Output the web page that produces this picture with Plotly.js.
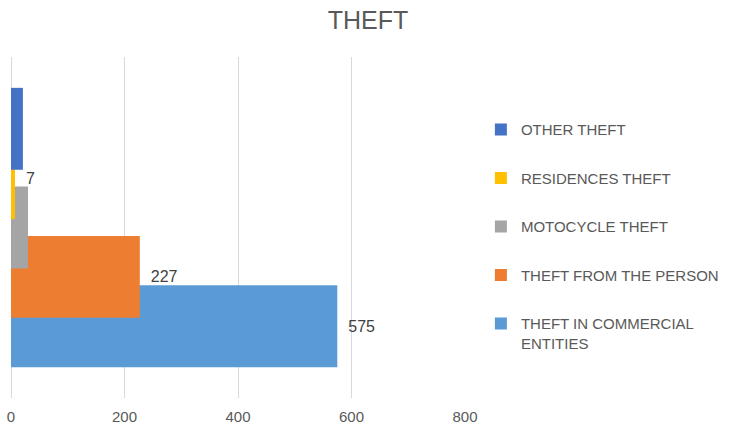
<!DOCTYPE html>
<html>
<head>
<meta charset="utf-8">
<script src="https://cdn.plot.ly/plotly-3.0.1.min.js"></script>
<style>html,body{margin:0;padding:0;background:#fff;}#chart{width:736px;height:426px;}</style>
</head>
<body>
<div id="chart"></div>
<script>
// Series drawn bottom-to-top (first = lowest bar, drawn underneath)
const seriesNames = ["THEFT IN COMMERCIAL<br>ENTITIES", "THEFT FROM THE PERSON", "MOTOCYCLE THEFT", "RESIDENCES THEFT", "OTHER THEFT"];
const seriesValues = [575, 227, 30, 7, 21];
const seriesColors = ["#5B9BD5", "#ED7D31", "#A5A5A5", "#FFC000", "#4472C4"];
const showLabel = [true, true, false, true, false];
const xTicks = [0, 200, 400, 600, 800];

const traces = seriesNames.map((name, i) => ({
  type: "bar",
  orientation: "h",
  name: name,
  x: [seriesValues[i]],
  y: [i],
  width: 1.66,
  marker: {color: seriesColors[i]},
  text: showLabel[i] ? [String(seriesValues[i])] : undefined,
  texttemplate: showLabel[i] ? "\u2002%{x}" : undefined,
  textposition: showLabel[i] ? "outside" : "none",
  textfont: {family: "Liberation Sans, Arial, sans-serif", size: 16, color: "#404040"},
  cliponaxis: false,
  legendgroup: "g" + i,
  legendrank: 100 - i,
  hoverinfo: "x+name"
}));

const layout = {
  width: 736, height: 426,
  margin: {l: 11, r: 271, t: 57, b: 28},
  paper_bgcolor: "#ffffff",
  plot_bgcolor: "#ffffff",
  barmode: "overlay",
  font: {family: "Liberation Sans, Arial, sans-serif", color: "#595959"},
  title: {
    text: "THEFT",
    x: 0.5, xref: "container", xanchor: "center",
    y: 1 - 20 / 426, yref: "container", yanchor: "middle",
    font: {size: 25, color: "#595959", family: "Liberation Sans, Arial, sans-serif"}
  },
  xaxis: {
    range: [0, 800],
    tickvals: xTicks,
    ticktext: xTicks.map(String),
    showgrid: true,
    gridcolor: "#d9d9d9",
    gridwidth: 1,
    zeroline: true,
    zerolinecolor: "#d9d9d9",
    zerolinewidth: 1,
    showline: false,
    ticks: "",
    ticklabelstandoff: 8,
    tickfont: {size: 15, color: "#595959"},
    fixedrange: true
  },
  yaxis: {
    range: [-1.455, 5.455],
    showgrid: false,
    zeroline: false,
    showline: false,
    showticklabels: false,
    ticks: "",
    fixedrange: true
  },
  showlegend: true,
  legend: {
    x: 1.035, xanchor: "left",
    y: 0.835, yanchor: "top",
    traceorder: "grouped",
    tracegroupgap: 26,
    valign: "top",
    font: {size: 15, color: "#595959"},
    bgcolor: "rgba(0,0,0,0)"
  }
};

Plotly.newPlot("chart", traces, layout, {displayModeBar: false, staticPlot: true});
</script>
</body>
</html>
